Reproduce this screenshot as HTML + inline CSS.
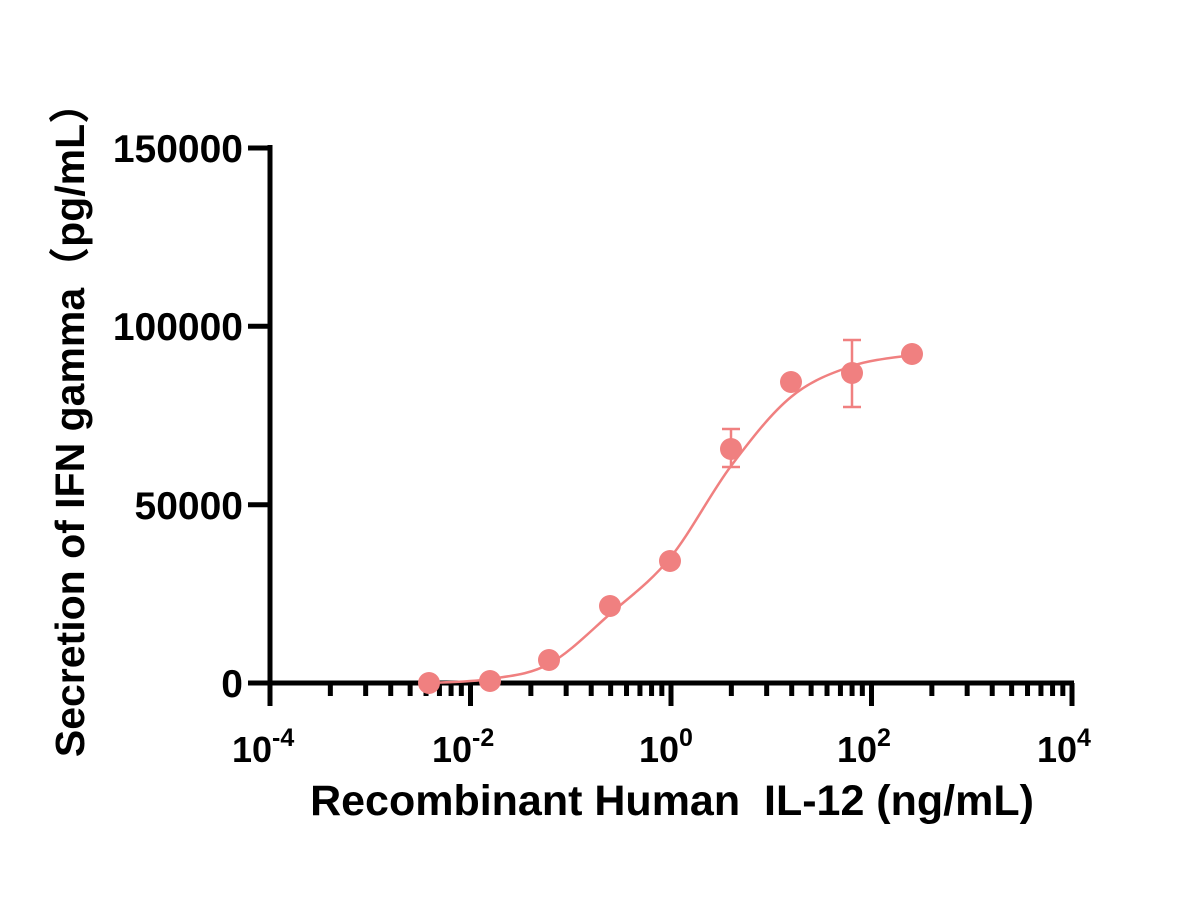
<!DOCTYPE html>
<html><head><meta charset="utf-8"><style>body{margin:0;background:#fff}</style></head>
<body>
<svg id="s" width="1200" height="900" xmlns="http://www.w3.org/2000/svg" font-family="Liberation Sans, Noto Sans CJK SC, sans-serif" font-weight="bold">
<rect width="1200" height="900" fill="#fff"/>
<g id="ax" stroke="#000" stroke-width="5" fill="none">
<line x1="270" y1="145" x2="270" y2="685.5"/>
<line x1="267.5" y1="683" x2="1074" y2="683"/>
<line x1="248" y1="148" x2="270" y2="148"/>
<line x1="248" y1="326.3" x2="270" y2="326.3"/>
<line x1="248" y1="504.7" x2="270" y2="504.7"/>
<line x1="248" y1="683" x2="270" y2="683"/>
</g>
<g font-size="39" text-anchor="end">
<text x="243" y="162">150000</text>
<text x="243" y="340">100000</text>
<text x="243" y="519">50000</text>
<text x="243" y="697">0</text>
</g>
<g font-size="36">
<text x="232" y="762">10<tspan font-size="25" dy="-16">-4</tspan></text>
<text x="432" y="762">10<tspan font-size="25" dy="-16">-2</tspan></text>
<text x="639" y="762">10<tspan font-size="25" dy="-16">0</tspan></text>
<text x="837" y="762">10<tspan font-size="25" dy="-16">2</tspan></text>
<text x="1037" y="762">10<tspan font-size="25" dy="-16">4</tspan></text>
</g>
<text x="672" y="815" font-size="43" text-anchor="middle">Recombinant Human &#160;IL-12 (ng/mL)</text>
<text transform="translate(84,420) rotate(-90)" font-size="41" text-anchor="middle">Secretion of IFN gamma（pg/mL）</text>
<g stroke="#f08080" stroke-width="2.5" fill="none">
<path id="curve"/>
<line x1="731" y1="429" x2="731" y2="467"/><line x1="722" y1="429" x2="740" y2="429"/><line x1="722" y1="467" x2="740" y2="467"/>
<line x1="852" y1="340" x2="852" y2="407"/><line x1="843" y1="340" x2="861" y2="340"/><line x1="843" y1="407" x2="861" y2="407"/>
</g>
<g fill="#f08080">
<circle cx="429" cy="683" r="11"/><circle cx="490" cy="681" r="11"/><circle cx="549" cy="660" r="11"/>
<circle cx="610" cy="606" r="11"/><circle cx="670" cy="561" r="11"/><circle cx="731" cy="449" r="11"/>
<circle cx="791" cy="382" r="11"/><circle cx="852" cy="373" r="11"/><circle cx="912" cy="354" r="11"/>
</g>
</svg>
<script>
var ax=document.getElementById('ax'),ns='http://www.w3.org/2000/svg';
function ln(x,y2){var l=document.createElementNS(ns,'line');l.setAttribute('x1',x);l.setAttribute('x2',x);l.setAttribute('y1',683);l.setAttribute('y2',y2);ax.appendChild(l);}
for(var d=0;d<4;d++){var b=270+d*200.5;ln(b,706);
 for(var k=2;k<=9;k++)ln(b+200.5*Math.log10(k),696);}
ln(1072,706);
var P=[[429,683],[490,679],[549,664],[610,614],[670,558],[731,466],[791,397],[852,366],[912,355]];
var d='M'+P[0];
for(var i=0;i<P.length-1;i++){var p0=P[Math.max(i-1,0)],p1=P[i],p2=P[i+1],p3=P[Math.min(i+2,P.length-1)];
 d+=' C'+(p1[0]+(p2[0]-p0[0])/6)+','+(p1[1]+(p2[1]-p0[1])/6)+' '+(p2[0]-(p3[0]-p1[0])/6)+','+(p2[1]-(p3[1]-p1[1])/6)+' '+p2;}
document.getElementById('curve').setAttribute('d',d);
</script>
</body></html>
